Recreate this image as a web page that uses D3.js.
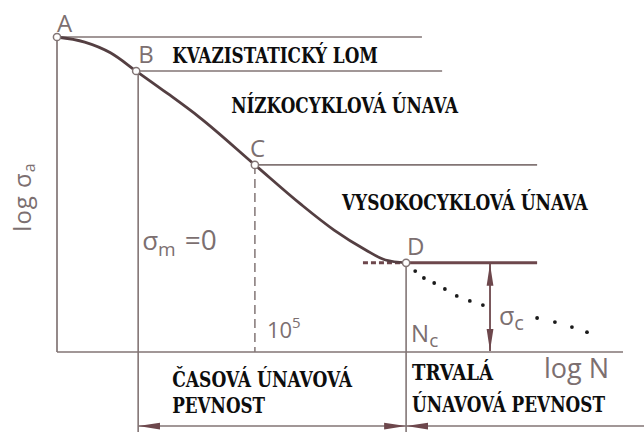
<!DOCTYPE html>
<html lang="cs">

<head>
    <meta charset="UTF-8">
    <title>Wöhlerova křivka</title>
    <style>
        body { margin: 0; background: #fff; }
    </style>
</head>

<body>
    <script src="https://d3js.org/d3.v7.min.js"></script>
    <div id="chart"></div>
    <script>

        const width = 644;
        const height = 432;

        // data: x = log N, y = log σa (relative, 0..100)
        const curveLogN = [0, 0.7, 1.35, 2.0, 2.8, 3.6, 5.0, 6.15, 7.0, 7.8, 8.3, 8.82];
        const curveLogS = [100, 98.4, 95, 89.2, 82, 74.5, 59.4, 47, 38.7, 32.4, 29.2, 28.3];

        const pointNames = ["A", "B", "C", "D"];
        const pointLogN = [0, 2.0, 5.0, 8.82];
        const pointLogS = [100, 89.2, 59.4, 28.3];

        // horizontal guides from A, B, C end here
        const guideEndLogN = [9.22, 9.73, 12.13];

        // endurance limit line after D, dashed lead-in before D
        const limitEndLogN = 12.13;
        const limitStartLogN = 7.73;

        // dotted branch below D (broken around the σc label)
        const dotsLogN = [9.05, 9.27, 9.53, 9.8, 10.1, 10.43, 10.76, 12.13, 12.58, 13.01, 13.39];
        const dotsLogS = [25.7, 23.5, 21.9, 20.0, 17.8, 16.2, 14.9, 10.8, 9.5, 7.9, 6.3];

        const sigmaCLogN = 10.94;
        const bottomArrowLogS = -23.5;
        const belowLogS = -26;

        const zoneLabels = ["KVAZISTATICKÝ LOM", "NÍZKOCYKLOVÁ ÚNAVA", "VYSOKOCYKLOVÁ ÚNAVA"];
        const lifeLabels = ["ČASOVÁ ÚNAVOVÁ", "PEVNOST", "TRVALÁ", "ÚNAVOVÁ PEVNOST"];

        // scales
        const x = d3.scaleLinear().domain([0, 14.3]).range([57, 623]);
        const y = d3.scaleLinear().domain([0, 100]).range([352, 37]);

        const thin = "#827575";
        const dark = "#543f42";
        const red = "#6d474c";
        const labelColor = "#7c6f70";

        const svg = d3.select("#chart").append("svg")
            .attr("width", width)
            .attr("height", height)
            .style("display", "block");

        const defs = svg.append("defs");
        defs.append("marker")
            .attr("id", "head")
            .attr("markerUnits", "userSpaceOnUse")
            .attr("viewBox", "0 -4 22 8")
            .attr("refX", 22).attr("refY", 0)
            .attr("markerWidth", 22).attr("markerHeight", 8)
            .attr("orient", "auto-start-reverse")
            .append("path")
            .attr("d", "M0,-3.4L22,0L0,3.4Z")
            .attr("fill", red);

        const g = svg.append("g");

        // axes
        g.append("line")
            .attr("x1", x(0)).attr("x2", x(0))
            .attr("y1", y(100)).attr("y2", y(0))
            .attr("stroke", thin).attr("stroke-width", 1.7);
        g.append("line")
            .attr("x1", x(0)).attr("x2", x(14.3))
            .attr("y1", y(0)).attr("y2", y(0))
            .attr("stroke", thin).attr("stroke-width", 1.7);

        // horizontal guides
        g.selectAll(".guide")
            .data(guideEndLogN)
            .join("line")
            .attr("x1", (d, i) => x(pointLogN[i]))
            .attr("x2", d => x(d))
            .attr("y1", (d, i) => y(pointLogS[i]))
            .attr("y2", (d, i) => y(pointLogS[i]))
            .attr("stroke", thin).attr("stroke-width", 1.6);

        // vertical from B (runs below the axis)
        g.append("line")
            .attr("x1", x(pointLogN[1]) + 2).attr("x2", x(pointLogN[1]) + 2)
            .attr("y1", y(pointLogS[1])).attr("y2", y(belowLogS))
            .attr("stroke", thin).attr("stroke-width", 1.6);

        // dashed vertical from C (10^5)
        g.append("line")
            .attr("x1", x(pointLogN[2])).attr("x2", x(pointLogN[2]))
            .attr("y1", y(pointLogS[2])).attr("y2", y(0))
            .attr("stroke", thin).attr("stroke-width", 1.5)
            .attr("stroke-dasharray", "9,5");

        // vertical from D (N_c)
        g.append("line")
            .attr("x1", x(pointLogN[3])).attr("x2", x(pointLogN[3]))
            .attr("y1", y(pointLogS[3])).attr("y2", y(belowLogS))
            .attr("stroke", thin).attr("stroke-width", 1.6);

        // endurance limit
        g.append("line")
            .attr("x1", x(pointLogN[3])).attr("x2", x(limitEndLogN))
            .attr("y1", y(pointLogS[3])).attr("y2", y(pointLogS[3]))
            .attr("stroke", red).attr("stroke-width", 3);
        g.append("line")
            .attr("x1", x(limitStartLogN)).attr("x2", x(pointLogN[3]))
            .attr("y1", y(pointLogS[3])).attr("y2", y(pointLogS[3]))
            .attr("stroke", red).attr("stroke-width", 3)
            .attr("stroke-dasharray", "5,3");

        // Wöhler curve
        const line = d3.line()
            .x(d => x(d[0]))
            .y(d => y(d[1]))
            .curve(d3.curveMonotoneX);
        g.append("path")
            .datum(d3.zip(curveLogN, curveLogS))
            .attr("d", line)
            .attr("fill", "none")
            .attr("stroke", dark)
            .attr("stroke-width", 2.8);

        // dotted branch
        g.selectAll(".dot")
            .data(d3.zip(dotsLogN, dotsLogS))
            .join("circle")
            .attr("cx", d => x(d[0]))
            .attr("cy", d => y(d[1]))
            .attr("r", 1.9)
            .attr("fill", "#1a1a1a");

        // σc double arrow
        g.append("line")
            .attr("x1", x(sigmaCLogN)).attr("x2", x(sigmaCLogN))
            .attr("y1", y(pointLogS[3]) + 1).attr("y2", y(0) - 1)
            .attr("stroke", red).attr("stroke-width", 1.8)
            .attr("marker-start", "url(#head)")
            .attr("marker-end", "url(#head)");

        // bottom arrows
        g.append("line")
            .attr("x1", x(pointLogN[1]) + 2).attr("x2", x(pointLogN[3]))
            .attr("y1", y(bottomArrowLogS)).attr("y2", y(bottomArrowLogS))
            .attr("stroke", thin).attr("stroke-width", 1.6)
            .attr("marker-start", "url(#head)")
            .attr("marker-end", "url(#head)");
        g.append("line")
            .attr("x1", x(pointLogN[3])).attr("x2", width)
            .attr("y1", y(bottomArrowLogS)).attr("y2", y(bottomArrowLogS))
            .attr("stroke", thin).attr("stroke-width", 1.6)
            .attr("marker-start", "url(#head)");

        // point markers
        g.selectAll(".pt")
            .data(pointNames)
            .join("circle")
            .attr("cx", (d, i) => x(pointLogN[i]))
            .attr("cy", (d, i) => y(pointLogS[i]))
            .attr("r", 3.6)
            .attr("fill", "#fff")
            .attr("stroke", thin)
            .attr("stroke-width", 1.5);

        // point letters
        const letterOffset = [[0, -5], [2, -8], [-5, -8], [1, -8]];
        g.selectAll(".ptlabel")
            .data(pointNames)
            .join("text")
            .attr("x", (d, i) => x(pointLogN[i]) + letterOffset[i][0])
            .attr("y", (d, i) => y(pointLogS[i]) + letterOffset[i][1])
            .attr("font-family", "Open Sans, sans-serif")
            .attr("font-size", 24)
            .attr("fill", labelColor)
            .text(d => d);

        // bold zone labels, squeezed horizontally to the reference width
        const boldLabel = (label, px, py, w) => {
            const t = g.append("text")
                .attr("font-family", "DejaVu Serif Condensed, DejaVu Serif, serif")
                .attr("font-weight", "bold")
                .attr("font-size", 23)
                .attr("fill", "#0d0d0d")
                .text(label);
            const natural = t.node().getComputedTextLength();
            t.attr("transform", `translate(${px},${py}) scale(${w / natural},1)`);
        };

        const bx = x(pointLogN[1]), by = y(pointLogS[1]);
        const cx = x(pointLogN[2]), cy = y(pointLogS[2]);
        const dx = x(pointLogN[3]), y0 = y(0);

        boldLabel(zoneLabels[0], bx + 36, by - 8, 206);
        boldLabel(zoneLabels[1], bx + 95, by + 42, 227);
        boldLabel(zoneLabels[2], cx + 87, cy + 45, 246);
        boldLabel(lifeLabels[0], bx + 36, y0 + 35, 180);
        boldLabel(lifeLabels[1], bx + 36, y0 + 61, 93);
        boldLabel(lifeLabels[2], dx + 6, y0 + 28, 81);
        boldLabel(lifeLabels[3], dx + 6, y0 + 60, 193);

        // thin-lettered annotations
        const note = (sel, size) => sel
            .attr("font-family", "Open Sans, sans-serif")
            .attr("font-size", size)
            .attr("fill", labelColor);

        // log σa (vertical)
        const ylab = g.append("text").call(note, 24)
            .attr("transform", "translate(31,197) rotate(-90)")
            .attr("text-anchor", "middle")
            .attr("letter-spacing", 1);
        ylab.append("tspan").text("log σ");
        ylab.append("tspan").attr("font-size", 16).attr("dy", 4).text("a");

        // σm = 0
        const sm = g.append("text").call(note, 26)
            .attr("x", bx + 6).attr("y", 250);
        sm.append("tspan").text("σ");
        sm.append("tspan").attr("font-size", 19).attr("dy", 6).text("m");
        sm.append("tspan").attr("dy", -6).attr("dx", 9).attr("font-size", 28).text("=0");

        // 10^5
        const tick = g.append("text").call(note, 22)
            .attr("x", cx + 12).attr("y", y0 - 14);
        tick.append("tspan").text("10");
        tick.append("tspan").attr("font-size", 15).attr("dy", -10).text("5");

        // Nc
        const nc = g.append("text").call(note, 24)
            .attr("x", dx + 5).attr("y", y0 - 10);
        nc.append("tspan").text("N");
        nc.append("tspan").attr("font-size", 19).attr("dy", 5).text("c");

        // σc
        const sc = g.append("text").call(note, 25)
            .attr("x", x(sigmaCLogN) + 9).attr("y", y0 - 27);
        sc.append("tspan").text("σ");
        sc.append("tspan").attr("font-size", 20).attr("dy", 5).text("c");

        // log N
        g.append("text").call(note, 27)
            .attr("x", 544).attr("y", y0 + 26)
            .text("log N");

    </script>
</body>

</html>
